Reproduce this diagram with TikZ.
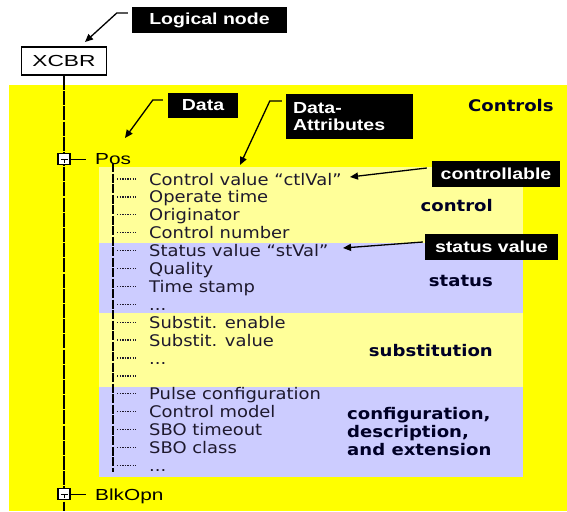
\documentclass[tikz,border=0pt]{standalone}
\usepackage{fontspec}
\setmainfont{DejaVu Sans}[FakeStretch=1.12]
\newfontfamily\arialf{Liberation Sans}[FakeStretch=1.3]
\newfontfamily\arialxf{Liberation Sans}[FakeStretch=1.42]
\newfontfamily\arialbf{Liberation Sans}[FakeStretch=1.22]
\newfontfamily\verdbf{DejaVu Sans}[FakeStretch=1.13]
\usetikzlibrary{arrows.meta,calc}
\definecolor{bgyellow}{RGB}{255,255,0}
\definecolor{paleyellow}{RGB}{255,255,153}
\definecolor{lavender}{RGB}{204,204,255}
\definecolor{textc}{RGB}{30,25,45}
\newcommand{\tdots}{...}
\tikzset{
  lbl/.style={fill=black, text=white, inner sep=0, font=\arialbf\bfseries\fontsize{16}{17}\selectfont},
  item/.style={anchor=base west, inner sep=0, text=textc, font=\fontsize{16}{18}\selectfont},
  rl/.style={inner sep=0, text=black!85!blue, font=\verdbf\bfseries\fontsize{16}{18}\selectfont},
  arialtext/.style={inner sep=0, text=black, font=\arialf\fontsize{16}{18}\selectfont},
  leader/.style={line width=1.3pt, dash pattern=on 1.3pt off 1.3pt, textc},
  trunk/.style={line width=1.5pt, dash pattern=on 14pt off 1.2pt},
  innerline/.style={line width=1.3pt, dash pattern=on 9pt off 1.5pt},
  arr/.style={line width=1.3pt, -{Triangle[length=8pt,width=7pt]}},
  pbox/.style={draw, fill=white, line width=1.1pt, minimum width=12, minimum height=11, inner sep=0},
}
\begin{document}
\begin{tikzpicture}[x=1pt,y=-1pt]
\path[use as bounding box] (0,0) rectangle (567,511);
% backgrounds
\fill[bgyellow] (9,85) rectangle (567,511);
\fill[paleyellow] (99,167) rectangle (523,243);
\fill[lavender] (99,243) rectangle (523,313);
\fill[paleyellow] (99,313) rectangle (523,387);
\fill[lavender] (99,387) rectangle (523,477);

% trunk
\coordinate (trunkend) at (64,511);
\node[draw, line width=1.8pt, fill=white, minimum width=85, minimum height=28, inner sep=0,
      font=\arialxf\fontsize{16}{18}\selectfont] (xcbr) at (64,61) {XCBR};
\draw[trunk] (xcbr.south) -- (trunkend);

% Pos
\node[arialtext, anchor=base west] (pos) at (95,164) {Pos};
\node[pbox] (posbox) at (64,159) {};
\draw[line width=0.9pt] ($(posbox.center)+(-3.5,0)$) -- ($(posbox.center)+(3.5,0)$);
\draw[line width=0.9pt] (posbox.center) -- ($(posbox.center)+(0,3.5)$);
\draw[line width=1pt, shorten >=9pt] (posbox.east) -- (posbox.east -| pos.west);

% BlkOpn
\node[arialtext, anchor=base west] (blk) at (95,500) {BlkOpn};
\node[pbox] (blkbox) at (64,494) {};
\draw[line width=0.9pt] ($(blkbox.center)+(-3.5,0)$) -- ($(blkbox.center)+(3.5,0)$);
\draw[line width=0.9pt] (blkbox.center) -- ($(blkbox.center)+(0,3.5)$);
\draw[line width=1pt, shorten >=9pt] (blkbox.east) -- (blkbox.east -| blk.west);

% inner vertical
\coordinate (innertop) at (113,163);
\coordinate (innerbot) at (113,472);
\draw[innerline] (innertop) -- (innerbot);

% items
\foreach \t [count=\i from 0] in {Control value “ctlVal”, Operate time, Originator, Control number,
  Status value “stVal”, Quality, Time stamp, \tdots, Substit. enable, Substit. value, \tdots, {},
  Pulse configuration, Control model, SBO timeout, SBO class, \tdots}{
  \pgfmathsetmacro{\yb}{185+17.9*\i}
  \node[item] (it\i) at (149,\yb) {\t};
  \coordinate (la\i) at (117,\yb-6);
  \coordinate (lb\i) at (136,\yb-6);
  \draw[leader] (la\i) -- (lb\i);
}

% right-hand labels
\node[rl, anchor=base west] (controls) at (468,111) {Controls};
\node[rl, anchor=base east] (lcontrol) at (493,211) {control};
\node[rl, anchor=base east] (lstatus) at (493,286) {status};
\node[rl, anchor=base east] (lsubst) at (493,356) {substitution};
\node[rl, anchor=base west] (lconf1) at (347,419) {configuration,};
\node[rl, anchor=base west] (lconf2) at (347,437) {description,};
\node[rl, anchor=base west] (lconf3) at (347,455) {and extension};

% black callout labels
\node[lbl, minimum width=155, minimum height=26] (lognode) at (209.5,20) {Logical node};
\node[lbl, minimum width=70, minimum height=25] (ldata) at (203,105.5) {Data};
\node[lbl, text width=113, inner xsep=7, minimum height=45, align=left] (lattr) at (349.5,116.5) {Data-\\Attributes};
\node[lbl, minimum width=128, minimum height=26] (lctrl) at (496,174) {controllable};
\node[lbl, minimum width=133, minimum height=26] (lstv) at (491.5,247) {status value};

% arrow tips
\coordinate (tipln) at (85,42);
\coordinate (tipdata) at (125,138);
\coordinate (tipattr) at (240,165);
\coordinate (tipctrl) at (350,177);
\coordinate (tipstv) at (343,248);

\draw[arr] ($(lognode.west)+(-4,-7)$) -- ++(-11,0) -- (tipln);
\draw[arr] ($(ldata.west)+(-5,-5.5)$) -- ++(-10,0) -- (tipdata);
\draw[arr] ($(lattr.west)+(-4,-15.5)$) -- ++(-12,0) -- (tipattr);
\draw[arr] ($(lctrl.west)+(-5,-6)$) -- (tipctrl);
\draw[arr] ($(lstv.west)+(-2,-5)$) -- (tipstv);
\end{tikzpicture}
\end{document}
